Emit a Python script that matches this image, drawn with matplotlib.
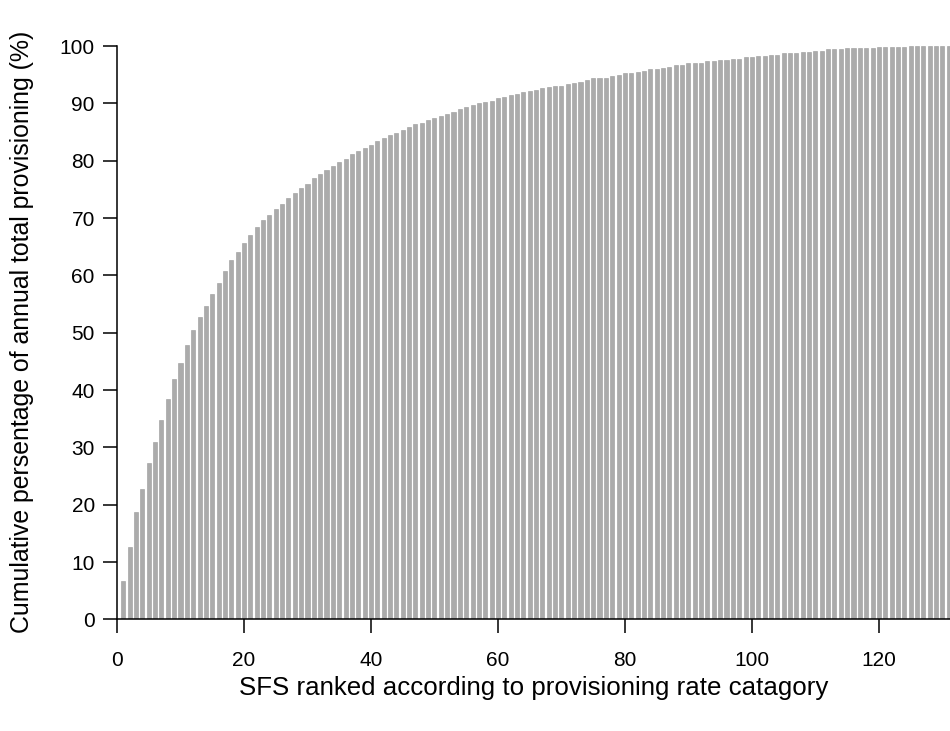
import numpy as np
import matplotlib.pyplot as plt

plt.rcParams['font.family'] = ['Liberation Sans', 'DejaVu Sans']

# cumulative share of annual provisioning, SFS ranked 1..131
cum_pct = [
    6.7, 12.7, 18.7, 22.8, 27.2, 31.0, 34.8, 38.5, 41.9, 44.7,
    47.9, 50.5, 52.7, 54.7, 56.8, 58.7, 60.7, 62.6, 64.0, 65.7,
    67.1, 68.4, 69.6, 70.6, 71.6, 72.4, 73.5, 74.4, 75.2, 76.0,
    76.9, 77.6, 78.3, 79.1, 79.8, 80.3, 81.1, 81.7, 82.2, 82.7,
    83.4, 84.0, 84.4, 84.8, 85.4, 85.8, 86.4, 86.6, 87.1, 87.5,
    87.8, 88.2, 88.5, 89.0, 89.3, 89.7, 90.0, 90.2, 90.4, 90.9,
    91.1, 91.4, 91.7, 92.0, 92.2, 92.4, 92.7, 92.9, 93.1, 93.1,
    93.4, 93.6, 93.8, 94.1, 94.4, 94.4, 94.5, 94.8, 95.0, 95.3,
    95.3, 95.5, 95.7, 96.0, 96.0, 96.2, 96.4, 96.7, 96.7, 97.0,
    97.1, 97.1, 97.3, 97.3, 97.5, 97.5, 97.75, 97.75, 98.0, 98.0,
    98.3, 98.3, 98.5, 98.5, 98.7, 98.7, 98.7, 99.0, 99.0, 99.2,
    99.2, 99.4, 99.4, 99.4, 99.6, 99.6, 99.6, 99.6, 99.6, 99.9,
    99.9, 99.9, 99.9, 99.9, 100, 100, 100, 100, 100, 100, 100,
]
rank = np.arange(1, len(cum_pct) + 1)
x_ticks = [0, 20, 40, 60, 80, 100, 120]
y_ticks = [0, 10, 20, 30, 40, 50, 60, 70, 80, 90, 100]

W, H = 950, 731
fig = plt.figure(figsize=(W / 100, H / 100), dpi=100)
ax = fig.add_axes([117 / W, 1 - 619.4 / H, 833 / W, 573.4 / H])

ax.bar(rank, cum_pct, width=0.64, color='#ababab', edgecolor='#999999', linewidth=0.4)

ax.set_xlim(0, 131.2)
ax.set_ylim(0, 100)
ax.set_xticks(x_ticks)
ax.set_yticks(y_ticks)
ax.spines['top'].set_visible(False)
ax.spines['right'].set_visible(False)
ax.spines['left'].set_bounds(0, 100)
for s in ['left', 'bottom']:
    ax.spines[s].set_linewidth(1.1)
ax.tick_params(axis='both', length=10, width=1.1, labelsize=15)
ax.tick_params(axis='x', pad=13)
ax.tick_params(axis='y', pad=6)

fig.text(533.5 / W, 1 - 688 / H, 'SFS ranked according to provisioning rate catagory',
         ha='center', va='center', fontsize=18.6)
fig.text(22 / W, 1 - 332 / H, 'Cumulative persentage of annual total provisioning (%)',
         ha='center', va='center', rotation=90, fontsize=17.9)

fig.savefig('out.png', dpi=100)
